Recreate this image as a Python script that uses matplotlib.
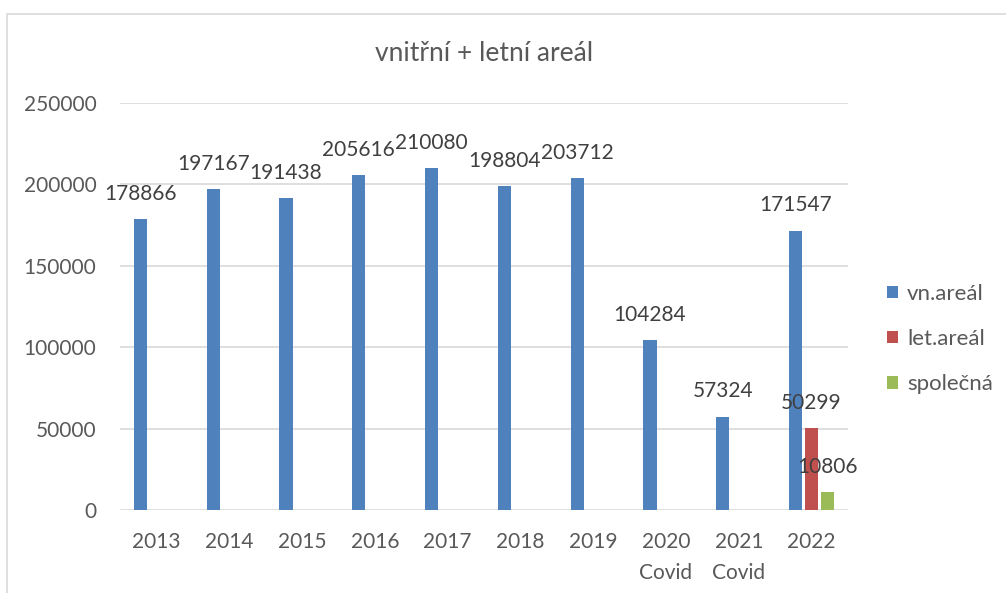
import numpy as np
import matplotlib.pyplot as plt
from matplotlib.patches import Rectangle

# data
years = ['2013', '2014', '2015', '2016', '2017', '2018', '2019', '2020\nCovid', '2021\nCovid', '2022']
vn_areal = [178866, 197167, 191438, 205616, 210080, 198804, 203712, 104284, 57324, 171547]
let_areal = [None, None, None, None, None, None, None, None, None, 50299]
spolecna = [None, None, None, None, None, None, None, None, None, 10806]

series = [('vn.areál', vn_areal, '#4F81BD'),
          ('let.areál', let_areal, '#C0504D'),
          ('společná', spolecna, '#9BBB59')]

plt.rcParams['font.family'] = ['Lato', 'DejaVu Sans']
text_col = '#595959'

fig = plt.figure(figsize=(10.06, 5.93), dpi=100)
ax = fig.add_axes([120 / 1006, 83 / 593, 728 / 1006, 407 / 593])

# chart frame
fig.patches.append(Rectangle((7 / 1006, -0.1), 1.2, (593 - 14) / 593 + 0.1,
                             transform=fig.transFigure, fill=False,
                             edgecolor='#D9D9D9', linewidth=1.2))

x = np.arange(len(years))
width = 0.18
offsets = [-0.22, 0.0, 0.22]

for (name, vals, col), off in zip(series, offsets):
    xs = [xi + off for xi, v in zip(x, vals) if v is not None]
    vs = [v for v in vals if v is not None]
    ax.bar(xs, vs, width=width, color=col, label=name, zorder=3)
    for xi, v in zip(xs, vs):
        ax.annotate(str(v), (xi, v), xytext=(0, 11), textcoords='offset points',
                    ha='center', va='bottom', fontsize=15, color='#404040', zorder=4)

ax.set_xlim(-0.5, len(years) - 0.5)
ax.set_ylim(0, 250000)
ax.set_yticks(np.arange(0, 250001, 50000))
ax.set_xticks(x)
ax.set_xticklabels(years, linespacing=1.65)
ax.tick_params(axis='both', length=0, labelsize=15, labelcolor=text_col)
ax.tick_params(axis='x', pad=16)
ax.tick_params(axis='y', pad=17)
ax.grid(axis='y', color='#D9D9D9', linewidth=1.2, zorder=0)
for s in ax.spines.values():
    s.set_visible(False)

ax.set_title('vnitřní + letní areál', fontsize=19, color=text_col, pad=30)

ax.legend(loc='upper left', bbox_to_anchor=(878 / 1006, 318 / 593), bbox_transform=fig.transFigure,
          frameon=False, fontsize=16, labelcolor=text_col, handlelength=0.5, handleheight=0.5,
          handletextpad=0.4, labelspacing=1.13, borderaxespad=0)

fig.savefig('out.png', dpi=100)
